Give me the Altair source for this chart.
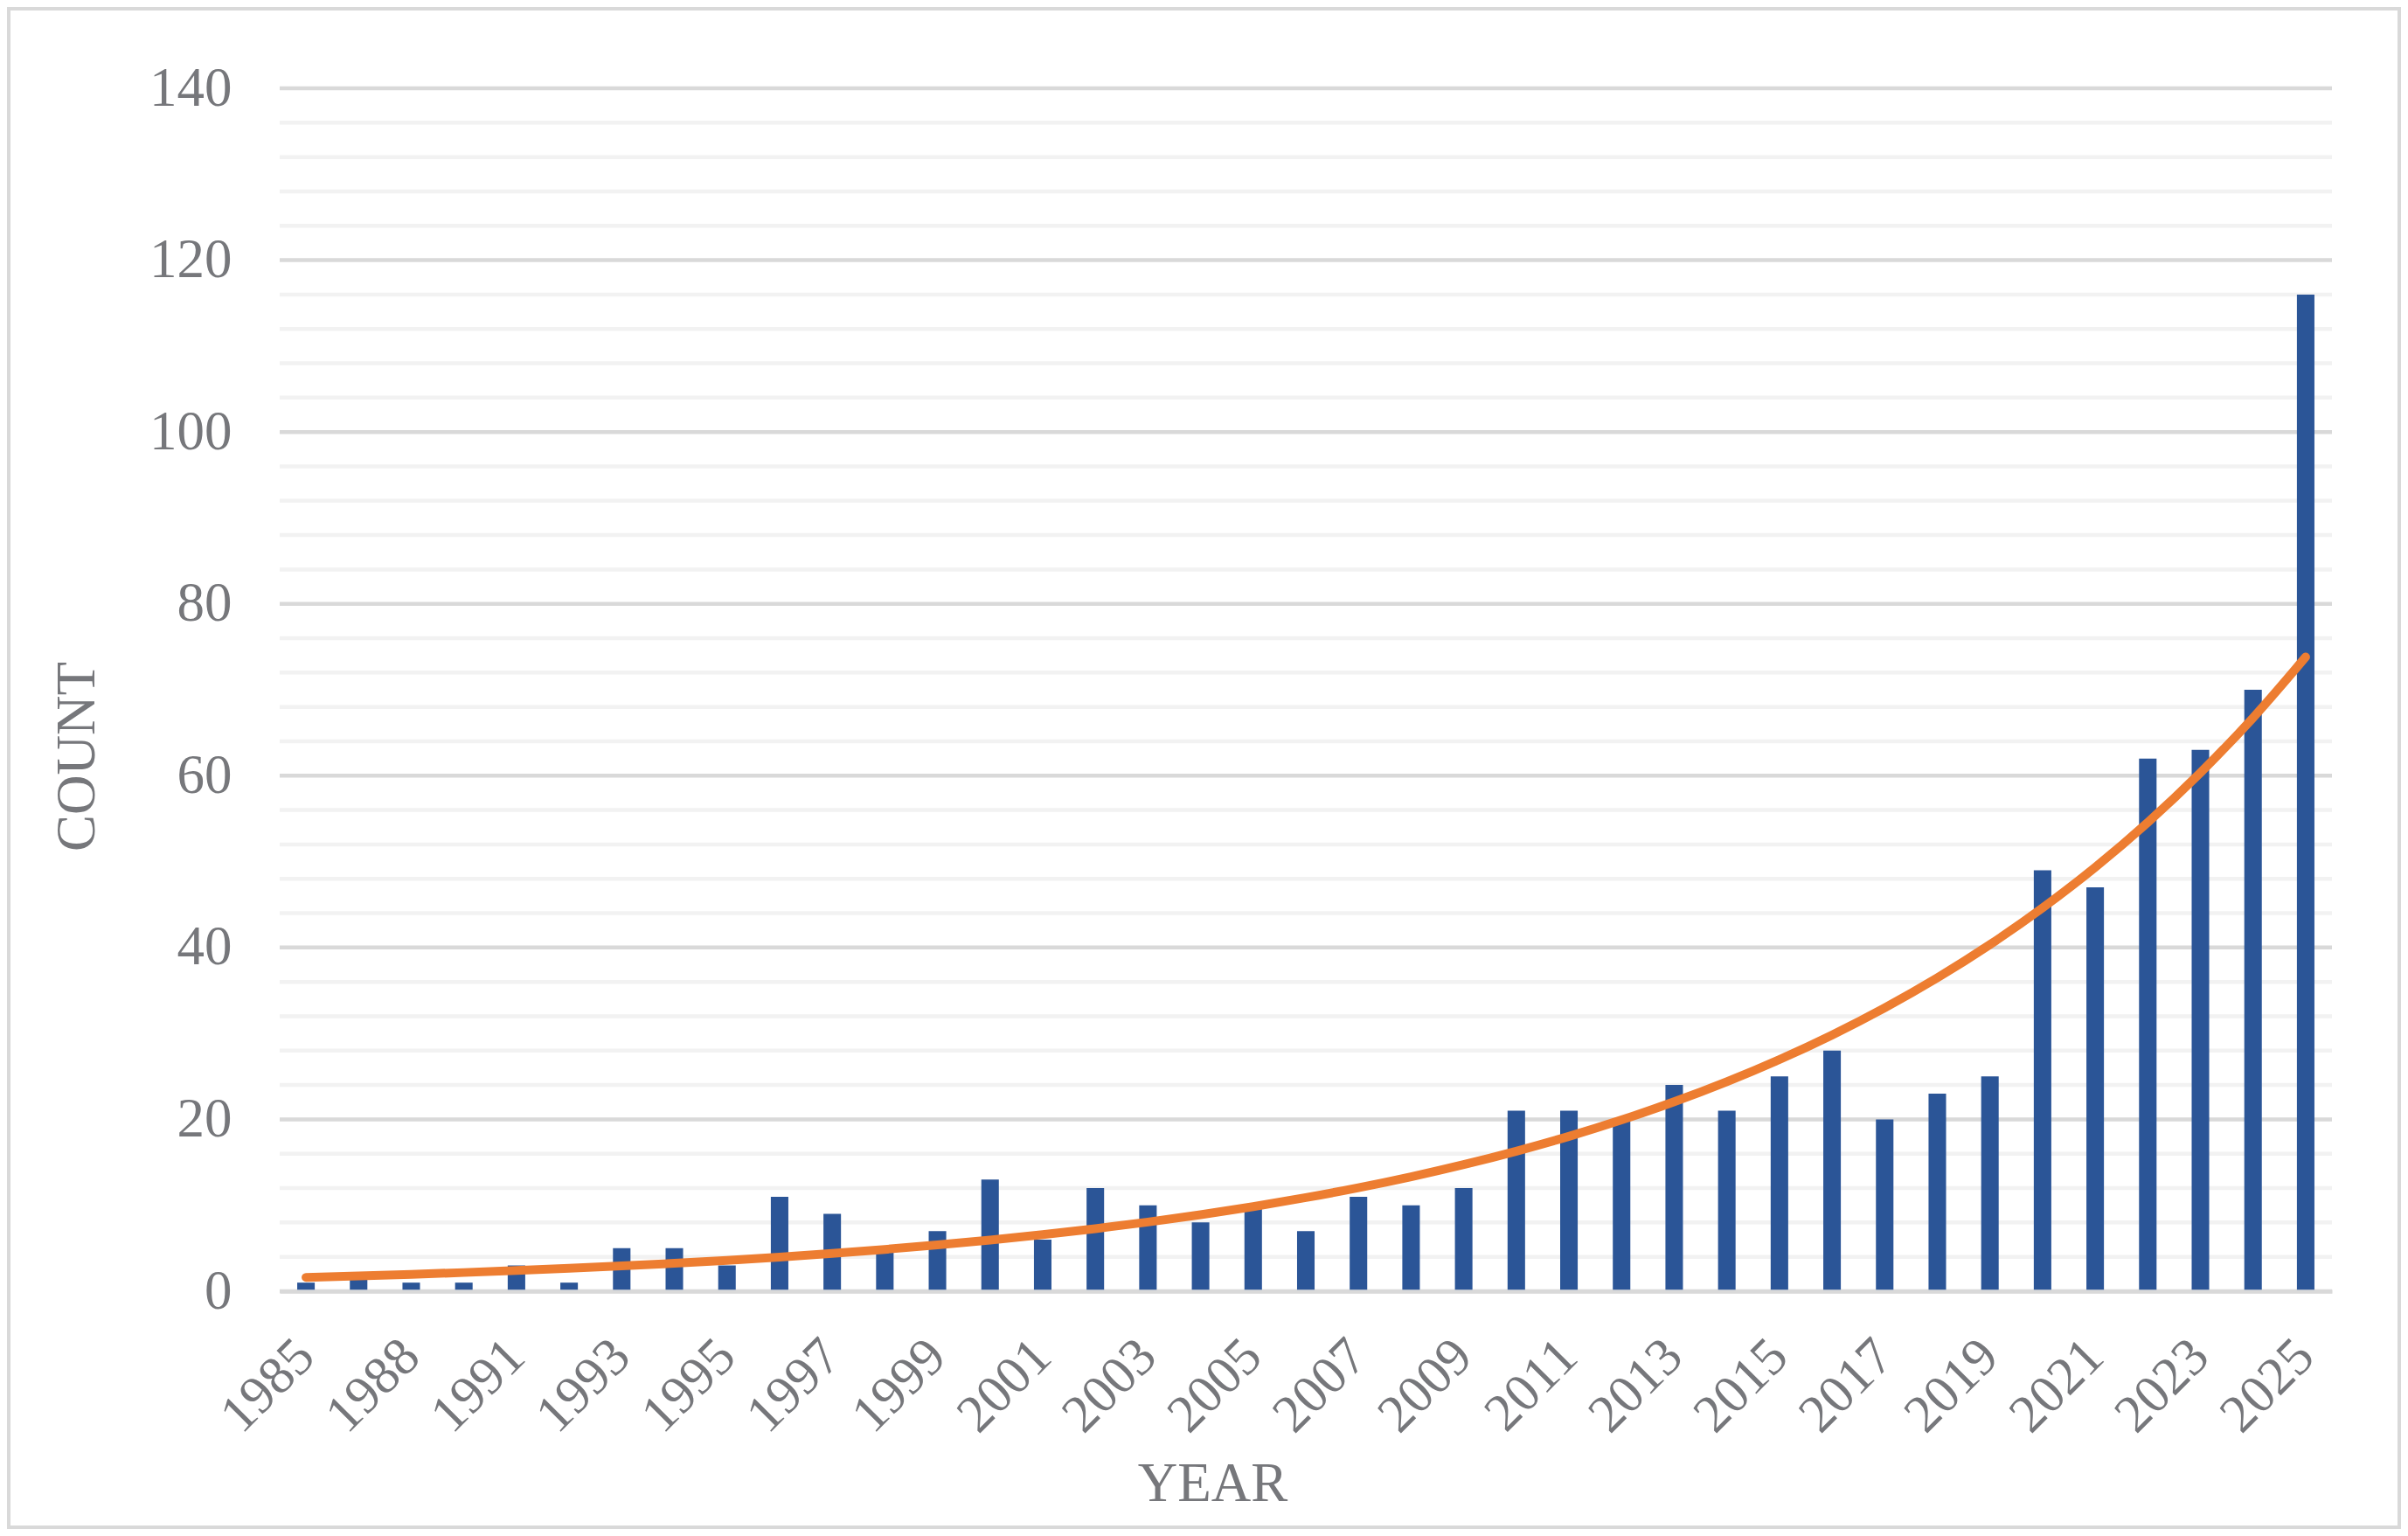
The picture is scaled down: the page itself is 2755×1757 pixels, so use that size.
import altair as alt
import pandas as pd

# ---- data ----
years = ["1985", "1987", "1988", "1990", "1991", "1992", "1993", "1994", "1995",
         "1996", "1997", "1998", "1999", "2000", "2001", "2002", "2003", "2004",
         "2005", "2006", "2007", "2008", "2009", "2010", "2011", "2012", "2013",
         "2014", "2015", "2016", "2017", "2018", "2019", "2020", "2021", "2022",
         "2023", "2024", "2025"]
papers = [1, 2, 1, 1, 3, 1, 5, 5, 3, 11, 9, 5, 7, 13, 6, 12, 10, 8, 10, 7,
          11, 10, 12, 21, 21, 20, 24, 21, 25, 28, 20, 23, 25, 49, 47, 62, 63, 70, 116]
label_years = years[0::2]
major_ticks = [0, 20, 40, 60, 80, 100, 120, 140]
minor_ticks = [4, 8, 12, 16, 24, 28, 32, 36, 44, 48, 52, 56, 64, 68, 72, 76,
               84, 88, 92, 96, 104, 108, 112, 116, 124, 128, 132, 136]

df = pd.DataFrame({"year": years, "papers": papers})
grid_df = pd.DataFrame({
    "v": major_ticks + minor_ticks,
    "kind": ["major"] * len(major_ticks) + ["minor"] * len(minor_ticks),
})

FONT = "Liberation Serif"
TEXT = "#76777B"
BAR = "#2B5597"
TREND = "#ED7D31"

x_axis = alt.Axis(
    title="YEAR", values=label_years, labelAngle=315, labelAlign="right",
    labelBaseline="middle", labelPadding=65, ticks=False, tickSize=0,
    domain=True, domainColor="#D9D9D9", domainWidth=4.5, grid=False,
    titleX=1067, titleY=220, titleBaseline="middle", titleAlign="center",
    labelFontSize=61, titleFontSize=63, labelOverlap=False, zindex=1,
)
y_axis = alt.Axis(
    title="COUNT", values=major_ticks, grid=False,
    domain=False, ticks=False, tickSize=0, labelPadding=55,
    titleX=-232, titleY=764, titleAngle=270, titleBaseline="middle",
    titleAlign="center", labelFontSize=63, titleFontSize=63, labelOverlap=False,
)
y_scale = alt.Scale(domain=[0, 140], nice=False, zero=True)
x_scale = alt.Scale(paddingInner=0.667, paddingOuter=0.333)

gridlines = alt.Chart(grid_df).mark_rule(strokeWidth=4.5).encode(
    y=alt.Y("v:Q", scale=y_scale, axis=y_axis),
    color=alt.Color("kind:N", scale=alt.Scale(domain=["major", "minor"],
                                              range=["#D9D9D9", "#F2F2F2"]),
                    legend=None),
)

bars = alt.Chart(df).mark_bar(color=BAR).encode(
    x=alt.X("year:N", sort=None, scale=x_scale, axis=x_axis),
    y=alt.Y("papers:Q", scale=y_scale, axis=y_axis),
)

# exponential trendline: least squares fit of log(count) on category index
trend = (
    alt.Chart(df)
    .transform_window(idx="row_number()")
    .transform_calculate(ly="log(datum.papers)")
    .transform_calculate(xy="datum.idx * datum.ly", xx="datum.idx * datum.idx")
    .transform_joinaggregate(mx="mean(idx)", my="mean(ly)", mxy="mean(xy)", mxx="mean(xx)")
    .transform_calculate(b="(datum.mxy - datum.mx * datum.my) / (datum.mxx - datum.mx * datum.mx)")
    .transform_calculate(fit="exp(datum.my + datum.b * (datum.idx - datum.mx))")
    .mark_line(color=TREND, strokeWidth=10, strokeCap="round", interpolate="monotone")
    .encode(x=alt.X("year:N", sort=None, scale=x_scale, axis=x_axis),
            y=alt.Y("fit:Q", scale=y_scale, axis=y_axis))
)

border = alt.Chart(pd.DataFrame({"k": [0]})).mark_rect(
    fill="white", fillOpacity=0, stroke="#D9D9D9", strokeWidth=4
).encode(x=alt.value(-310), x2=alt.value(2425), y=alt.value(-91), y2=alt.value(1646))

chart = (
    alt.layer(gridlines, bars, trend, border)
    .properties(
        width=2348, height=1376,
        padding={"left": 312, "top": 93, "right": 79, "bottom": 272},
        autosize=alt.AutoSizeParams(type="none"),
        background="white",
    )
    .configure(font=FONT)
    .configure_view(strokeWidth=0)
    .configure_axis(labelFont=FONT, titleFont=FONT, labelColor=TEXT,
                    titleColor=TEXT, titleFontWeight="normal")
)

chart.save("out.html", embed_options={"renderer": "svg", "actions": False})
